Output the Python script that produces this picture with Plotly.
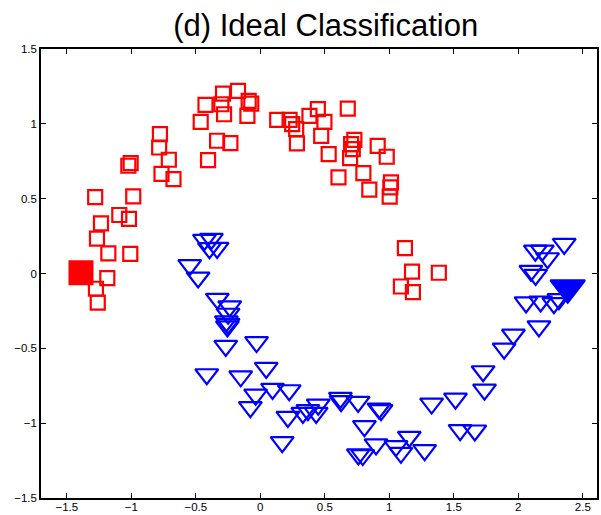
import plotly.graph_objects as go

# Class 1 (red squares)
red_x = [-1.28, -0.985, -1.235, -1.093, -1.018, -1.266, -1.178, -1.008, -1.186, -1.274,
         -1.26, -1.023, -1.005, -0.778, -0.784, -0.709, -0.766, -0.673, -0.462, -0.425,
         -0.405, -0.335, -0.232, -0.289, -0.302, -0.281, -0.173, -0.10, -0.09, -0.07,
         0.131, 0.227, 0.247, 0.278, 0.284, 0.381, 0.446, 0.472, 0.53, 0.497,
         0.678, 0.606, 0.729, 0.704, 0.717, 0.696, 0.799, 0.845, 0.91, 0.98,
         1.013, 1.008, 1.003, 1.121, 1.176, 1.09, 1.183, 1.384]
red_y = [0.51, 0.515, 0.335, 0.391, 0.365, 0.233, 0.135, 0.131, -0.031, -0.102,
         -0.195, 0.72, 0.738, 0.931, 0.842, 0.76, 0.665, 0.631, 1.013, 1.127,
         0.758, 0.887, 0.871, 1.202, 1.131, 1.064, 1.22, 1.053, 1.153, 1.135,
         1.027, 1.027, 0.998, 0.964, 0.869, 1.053, 1.098, 0.92, 0.798, 1.013,
         1.102, 0.642, 0.893, 0.864, 0.831, 0.771, 0.671, 0.56, 0.853, 0.78,
         0.609, 0.575, 0.513, 0.169, 0.013, -0.087, -0.124, 0.005]

# Class 2 (blue triangles)
blue_x = [-0.433, -0.379, -0.335, -0.394, -0.547, -0.482, -0.333, -0.237, -0.25, -0.263,
          -0.25, -0.255, -0.268, -0.029, -0.415, 0.046, -0.152, 0.095, 0.224, -0.036,
          -0.077, 0.214, 0.369, 0.33, 0.449, 0.433, 0.17, 0.621, 0.626, 0.758,
          0.92, 0.936, 0.807, 0.897, 1.052, 1.155, 1.274, 0.76, 0.794, 1.09,
          1.328, 1.513, 1.549, 1.663, 1.727, 1.738, 1.89, 1.962, 2.16, 2.06,
          2.173, 2.276, 2.315, 2.098, 2.134, 2.132, 2.186, 2.227, 2.356]
blue_y = [0.225, 0.231, 0.171, 0.169, 0.056, -0.027, -0.169, -0.22, -0.269, -0.32,
          -0.336, -0.353, -0.484, -0.458, -0.673, -0.631, -0.687, -0.771, -0.78, -0.809,
          -0.893, -0.958, -0.913, -0.931, -0.876, -0.931, -1.127, -0.831, -0.853, -0.858,
          -0.902, -0.913, -1.02, -1.142, -1.153, -1.091, -1.18, -1.209, -1.213, -1.198,
          -0.869, -0.836, -1.047, -1.049, -0.653, -0.776, -0.502, -0.409, -0.353, -0.193,
          -0.187, -0.198, -0.171, 0.018, -0.009, 0.153, 0.153, 0.102, 0.198]

# Labeled points (filled)
lab_red_x = [-1.39]
lab_red_y = [0.005]
lab_blue_x = [2.383]
lab_blue_y = [-0.096]

RED = "#FF0000"
BLUE = "#0000FF"

fig = go.Figure()
fig.add_trace(go.Scatter(x=red_x, y=red_y, mode="markers",
                         marker=dict(symbol="square-open", size=14, color=RED,
                                     line=dict(width=2.2, color=RED))))
fig.add_trace(go.Scatter(x=blue_x, y=blue_y, mode="markers",
                         marker=dict(symbol="triangle-down-open", size=20, color=BLUE,
                                     line=dict(width=2.2, color=BLUE))))
fig.add_trace(go.Scatter(x=lab_red_x, y=lab_red_y, mode="markers",
                         marker=dict(symbol="square", size=25, color=RED,
                                     line=dict(width=0))))
fig.add_trace(go.Scatter(x=lab_blue_x, y=lab_blue_y, mode="markers",
                         marker=dict(symbol="triangle-down", size=30, color=BLUE,
                                     line=dict(width=2, color=BLUE))))

axis_common = dict(showgrid=False, zeroline=False, showline=True, linecolor="black",
                   linewidth=1.5, mirror="allticks", ticks="inside", ticklen=5,
                   tickwidth=1, tickcolor="black", automargin=False,
                   tickfont=dict(family="Liberation Sans, Arial", size=11.5, color="black"))

fig.update_layout(
    width=601, height=515,
    margin=dict(l=41, r=4, t=49, b=17),
    paper_bgcolor="white", plot_bgcolor="white",
    showlegend=False,
    title=dict(text="(d) Ideal Classification", x=0.512, xref="paper", xanchor="center",
               y=1 - 25 / 515, yref="container", yanchor="middle",
               font=dict(family="Liberation Sans, Arial", size=31, color="black")),
    xaxis=dict(range=[-1.70, 2.61], tickvals=[-1.5, -1, -0.5, 0, 0.5, 1, 1.5, 2, 2.5],
               ticklabelstandoff=-3, **axis_common),
    yaxis=dict(range=[-1.5, 1.5], tickvals=[-1.5, -1, -0.5, 0, 0.5, 1, 1.5],
               **axis_common),
)

fig.write_html("out.html")
